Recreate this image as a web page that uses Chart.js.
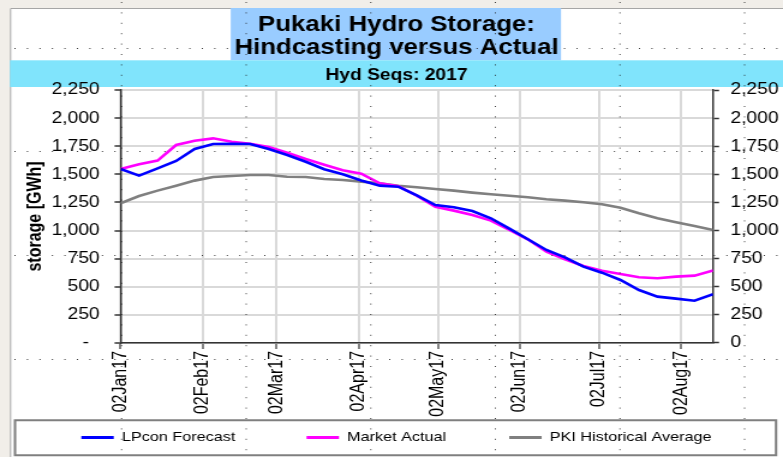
<!DOCTYPE html>
<html><head><meta charset="utf-8">
<script src="https://cdn.jsdelivr.net/npm/chart.js@4.4.1/dist/chart.umd.min.js"></script>
<style>
html,body{margin:0;padding:0;background:#f1eee9;overflow:hidden;width:783px;height:457px;}
#wrap{position:absolute;left:0;top:0;width:652px;height:457px;transform:scaleX(1.2009);transform-origin:0 0;}
canvas{display:block;}
</style></head><body>
<div id="wrap"><canvas id="c" width="652" height="457" style="width:652px;height:457px"></canvas></div>
<script>
const weekDates = ['2017-01-02','2017-01-09','2017-01-16','2017-01-23','2017-01-30','2017-02-06','2017-02-13','2017-02-20','2017-02-27','2017-03-06','2017-03-13','2017-03-20','2017-03-27','2017-04-03','2017-04-10','2017-04-17','2017-04-24','2017-05-01','2017-05-08','2017-05-15','2017-05-22','2017-05-29','2017-06-05','2017-06-12','2017-06-19','2017-06-26','2017-07-03','2017-07-10','2017-07-17','2017-07-24','2017-07-31','2017-08-07','2017-08-14'];
const lpconForecast = [1547,1488,1553,1619,1725,1770,1772,1770,1725,1672,1612,1545,1500,1445,1399,1390,1313,1227,1207,1174,1109,1017,922,827,762,679,625,560,471,412,394,376,433];
const marketActual = [1547,1589,1622,1761,1799,1820,1790,1772,1742,1693,1636,1585,1536,1505,1420,1395,1310,1212,1177,1138,1088,1005,922,812,744,685,643,614,584,575,590,599,645];
const pkiHistoricalAverage = [1242,1307,1355,1399,1444,1476,1485,1494,1494,1479,1476,1459,1450,1435,1420,1399,1385,1370,1355,1337,1322,1310,1296,1278,1266,1251,1233,1203,1153,1109,1073,1040,1005];
const tickDates = ['2017-01-02','2017-02-02','2017-03-02','2017-04-02','2017-05-02','2017-06-02','2017-07-02','2017-08-02'];
const tickLabels = ['02Jan17','02Feb17','02Mar17','02Apr17','02May17','02Jun17','02Jul17','02Aug17'];
const seriesNames = ['LPcon Forecast','Market Actual','PKI Historical Average'];
const seriesColors = ['#0000ff','#ff00ff','#808080'];
const titleLines = ['Pukaki Hydro Storage:','Hindcasting versus Actual'];
const subtitleText = 'Hyd Seqs: 2017';
const yAxisTitle = 'storage [GWh]';
const yMin = 0, yMax = 2250, yStep = 250;

const FONT = '"Liberation Sans", Arial, sans-serif';
const DAY = 86400000;
const t0 = Date.parse(weekDates[0]);
const dayOf = d => (Date.parse(d) - t0) / DAY;
const xs = weekDates.map(dayOf);
const tickXs = tickDates.map(dayOf);
const toPts = arr => arr.map((v, i) => ({x: xs[i], y: v}));
const seriesValues = [lpconForecast, marketActual, pkiHistoricalAverage];
const legendPad = ['\u2002'.repeat(7), '\u2002'.repeat(6), ''];

const bgPlugin = {
  id: 'bg',
  beforeDraw(chart) {
    const {ctx, width, height, chartArea} = chart;
    const L = 8.3, T = 8;
    ctx.save();
    ctx.fillStyle = '#ffffff';
    ctx.fillRect(L, T, width - L, height - T);
    ctx.strokeStyle = '#a6a6a6'; ctx.lineWidth = 1;
    ctx.beginPath(); ctx.moveTo(L + 0.5, height); ctx.lineTo(L + 0.5, T + 0.5); ctx.lineTo(width, T + 0.5); ctx.stroke();
    const tb = chart.titleBlock;
    ctx.font = 'bold 21.5px ' + FONT;
    const tw = Math.max(...titleLines.map(s => ctx.measureText(s).width));
    const cx = (tb.left + tb.right) / 2;
    ctx.fillStyle = '#99ccff';
    ctx.fillRect(cx - tw / 2 - 3, tb.top, tw + 5, tb.bottom - tb.top);
    ctx.fillStyle = '#80e4fc';
    ctx.fillRect(L, tb.bottom, width - L, chartArea.top - 3 - tb.bottom);
    ctx.restore();
  },
  afterDraw(chart) {
    const {ctx, width, height} = chart;
    const lg = chart.legend;
    ctx.save();
    ctx.strokeStyle = '#7f7f7f'; ctx.lineWidth = 2;
    ctx.strokeRect(12.5, lg.top + 1.5, 633.7, 35);
    ctx.strokeStyle = 'rgba(30,30,30,0.85)'; ctx.lineWidth = 1;
    ctx.setLineDash([1, 9.4]);
    for (const gx of [101.25, 205, 308.75, 412.5, 516.25, 620]) {
      ctx.beginPath(); ctx.moveTo(gx, 2); ctx.lineTo(gx, height); ctx.stroke();
    }
    for (const gy of [48.5, 151.5, 255.5, 359.5]) {
      ctx.beginPath(); ctx.moveTo(12, gy); ctx.lineTo(width, gy); ctx.stroke();
    }
    ctx.restore();
  }
};

Chart.defaults.font.family = FONT;
Chart.defaults.color = '#000';

new Chart(document.getElementById('c'), {
  type: 'line',
  data: {
    datasets: seriesNames.map((name, i) => ({
      label: name,
      data: toPts(seriesValues[i]),
      borderColor: seriesColors[i],
      backgroundColor: seriesColors[i],
      borderWidth: 2.6,
      pointRadius: 0,
      tension: 0,
      fill: false
    }))
  },
  options: {
    responsive: false,
    devicePixelRatio: 1,
    animation: false,
    layout: {padding: {left: 8.3, right: 0, top: 8, bottom: 2.75}},
    plugins: {
      title: {display: true, text: titleLines, color: '#000', font: {size: 21.5, weight: 'bold', lineHeight: 1.1}, padding: {top: 5, bottom: 0}},
      subtitle: {display: true, text: subtitleText, color: '#000', font: {size: 16, weight: 'bold', lineHeight: 1.2}, padding: {top: 5.6, bottom: 4.9}},
      legend: {
        position: 'bottom',
        labels: {
          usePointStyle: true, pointStyle: 'line', pointStyleWidth: 27,
          font: {size: 13.5}, color: '#000', padding: 12,
          generateLabels(chart) {
            const items = Chart.defaults.plugins.legend.labels.generateLabels(chart);
            items.forEach((it, i) => { it.text = it.text + legendPad[i]; it.lineWidth = 2.8; });
            return items;
          }
        }
      },
      tooltip: {enabled: false}
    },
    scales: {
      x: {
        type: 'linear', min: 0, max: xs[xs.length - 1],
        afterBuildTicks(s) { s.ticks = tickXs.map(v => ({value: v})); },
        afterFit(s) { s.height = 75.8; },
        ticks: {
          autoSkip: false, maxRotation: 90, minRotation: 90, padding: 2,
          font: {size: 16}, color: '#000',
          callback(v) { const i = tickXs.indexOf(v); return i >= 0 ? tickLabels[i] : ''; }
        },
        grid: {color: '#d9d9d9', lineWidth: 2, tickLength: 6, tickColor: '#333', tickWidth: 1.2},
        border: {color: '#333', width: 1.5}
      },
      y: {
        position: 'left', min: yMin, max: yMax,
        afterFit(s) { s.width = 92.1; },
        ticks: {stepSize: yStep, padding: 12.4, font: {size: 16}, color: '#000',
          callback(v) { return v === 0 ? '-  ' : v.toLocaleString('en-US'); }},
        grid: {color: '#d9d9d9', lineWidth: 2, tickLength: 5, tickColor: '#333', tickWidth: 1.5},
        border: {color: '#333', width: 1.5},
        title: {display: true, text: yAxisTitle, color: '#000', font: {size: 16, weight: 'bold', lineHeight: 1.2}, padding: {top: 11.3, bottom: 0}}
      },
      y2: {
        position: 'right', min: yMin, max: yMax,
        afterFit(s) { s.width = 58.25; },
        ticks: {stepSize: yStep, padding: 9.5, font: {size: 16}, color: '#000',
          callback(v) { return v.toLocaleString('en-US'); }},
        grid: {drawOnChartArea: false, tickLength: 5, color: '#333', tickColor: '#333', tickWidth: 1.5},
        border: {color: '#333', width: 1.5}
      }
    }
  },
  plugins: [bgPlugin]
});
</script>
</body></html>
